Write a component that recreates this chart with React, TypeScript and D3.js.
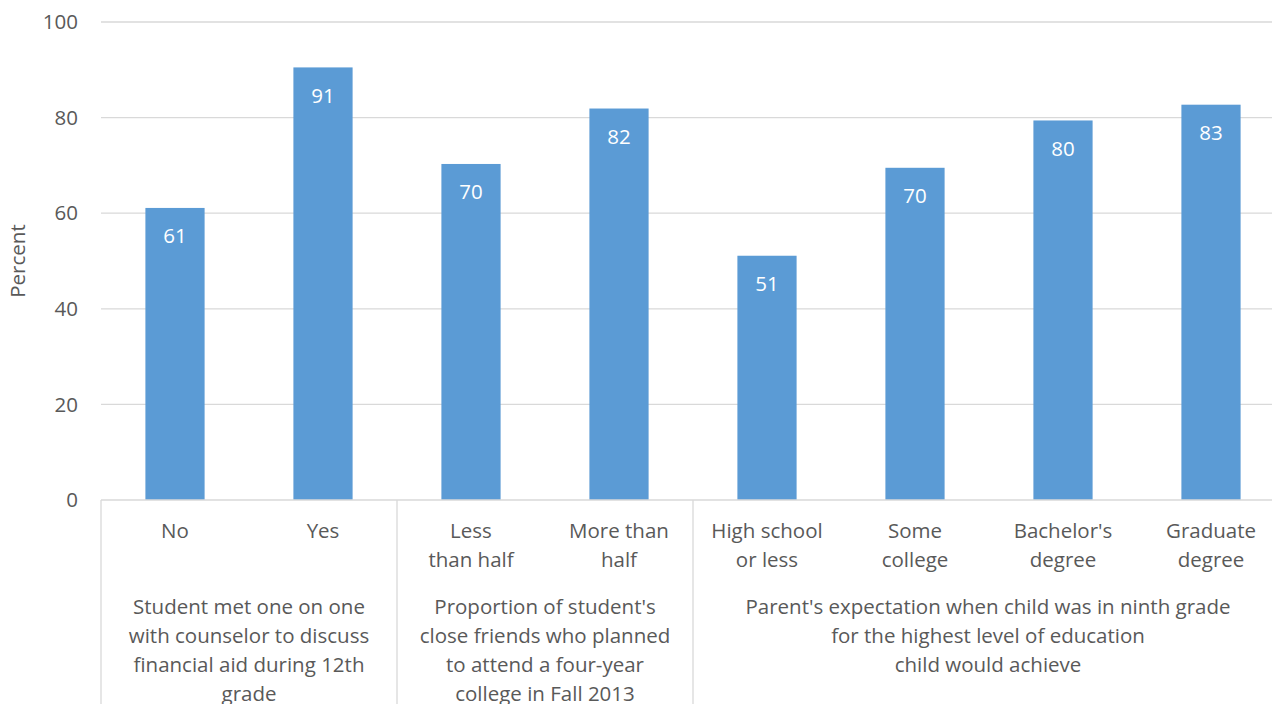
import React from "react";
import * as d3 from "d3";

const categories: string[][] = [
  ["No"],
  ["Yes"],
  ["Less", "than half"],
  ["More than", "half"],
  ["High school", "or less"],
  ["Some", "college"],
  ["Bachelor's", "degree"],
  ["Graduate", "degree"],
];
const values: number[] = [61.1, 90.5, 70.3, 81.9, 51.1, 69.5, 79.4, 82.7];
const valueLabels: string[] = ["61", "91", "70", "82", "51", "70", "80", "83"];
const groups: { lines: string[]; start: number; count: number }[] = [
  { lines: ["Student met one on one", "with counselor to discuss", "financial aid during 12th", "grade"], start: 0, count: 2 },
  { lines: ["Proportion of student's", "close friends who planned", "to attend a four-year", "college in Fall 2013"], start: 2, count: 2 },
  { lines: ["Parent's expectation when child was in ninth grade", "for the highest level of education", "child would achieve"], start: 4, count: 4 },
];
const yTicks: number[] = [0, 20, 40, 60, 80, 100];

const W = 1272;
const H = 704;
const left = 101;
const right = 1285;
const top = 22;
const bottom = 500;
const font = "'Open Sans', sans-serif";
const textColor = "#595959";
const fs = 20.5;

export default function App() {
  const x = d3.scaleBand<number>().domain(d3.range(categories.length)).range([left, right]).paddingInner(0.6).paddingOuter(0.3);
  const band = d3.scaleBand<number>().domain(d3.range(categories.length)).range([left, right]);
  const y = d3.scaleLinear().domain([0, 100]).range([bottom, top]);
  const step = band.step();
  const sepX = [0, 2, 4, 8].map((i) => left + i * step);

  return (
    <svg width={W} height={H} style={{ position: "absolute", left: 0, top: 0, background: "#fff" }}>
      {yTicks.map((t) => (
        <g key={t}>
          {t > 0 && <line x1={left} x2={right} y1={y(t)} y2={y(t)} stroke="#d9d9d9" strokeWidth={1.3} />}
          <text x={78} y={y(t)} dy="0.35em" textAnchor="end" fontFamily={font} fontSize={fs} fill={textColor}>
            {t}
          </text>
        </g>
      ))}
      <text transform={`translate(25,${(top + bottom) / 2}) rotate(-90)`} textAnchor="middle" fontFamily={font} fontSize={fs} fill={textColor}>
        Percent
      </text>
      {values.map((v, i) => (
        <g key={i}>
          <rect x={x(i)} y={y(v)} width={x.bandwidth()} height={bottom - y(v)} fill="#5b9bd5" />
          <text x={x(i)! + x.bandwidth() / 2} y={y(v) + 28} dy="0.35em" textAnchor="middle" fontFamily={font} fontSize={fs} fill="#ffffff">
            {valueLabels[i]}
          </text>
        </g>
      ))}
      <line x1={left} x2={right} y1={bottom} y2={bottom} stroke="#d9d9d9" strokeWidth={1.3} />
      {sepX.map((sx, i) => (
        <line key={i} x1={sx} x2={sx} y1={bottom} y2={H} stroke="#d9d9d9" strokeWidth={1.3} />
      ))}
      {categories.map((lines, i) => (
        <text key={i} textAnchor="middle" fontFamily={font} fontSize={fs} fill={textColor}>
          {lines.map((l, j) => (
            <tspan key={j} x={band(i)! + step / 2} y={531 + j * 29} dy="0.35em">
              {l}
            </tspan>
          ))}
        </text>
      ))}
      {groups.map((g, gi) => {
        const cx = left + (g.start + g.count / 2) * step;
        return (
          <text key={gi} textAnchor="middle" fontFamily={font} fontSize={fs} fill={textColor}>
            {g.lines.map((l, j) => (
              <tspan key={j} x={gi === 2 ? 988 : cx} y={607 + j * 29} dy="0.35em">
                {l}
              </tspan>
            ))}
          </text>
        );
      })}
    </svg>
  );
}
